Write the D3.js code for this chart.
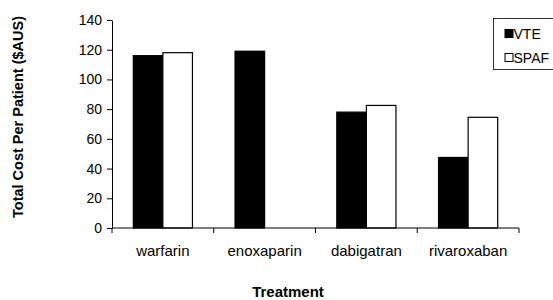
<!DOCTYPE html>
<html>
<head>
<meta charset="utf-8">
<script src="https://cdn.jsdelivr.net/npm/d3@7"></script>
<style>
	body { margin: 0; background: #fff; }
	text { font-family: "Liberation Sans", Arial, sans-serif; fill: #000; }
</style>
</head>
<body>
<svg id="chart" width="553" height="300"></svg>
<script>
const treatments = ['warfarin', 'enoxaparin', 'dabigatran', 'rivaroxaban'];
const seriesNames = ['VTE', 'SPAF'];
const vteCost = [116, 119, 78, 47.5];
const spafCost = [118, null, 82.5, 74.5];
const yTicks = [0, 20, 40, 60, 80, 100, 120, 140];

const margin = {top: 20, right: 34, bottom: 72, left: 112};
const width = 553, height = 300;
const svg = d3.select('#chart');

const x = d3.scaleBand()
	.domain(treatments)
	.range([margin.left, width - margin.right]);

const inner = d3.scaleBand()
	.domain(seriesNames)
	.range([0, x.bandwidth()])
	.paddingOuter(0.72);

const y = d3.scaleLinear()
	.domain([0, 140])
	.range([height - margin.bottom, margin.top]);

const rows = treatments.map((t, i) => ({treatment: t, values: [
	{series: 'VTE', value: vteCost[i]},
	{series: 'SPAF', value: spafCost[i]}
]}));

// bars
svg.append('g')
	.selectAll('g')
	.data(rows)
	.join('g')
	.attr('transform', d => `translate(${x(d.treatment)},0)`)
	.selectAll('rect')
	.data(d => d.values.filter(v => v.value != null))
	.join('rect')
	.attr('x', d => inner(d.series))
	.attr('width', inner.bandwidth())
	.attr('y', d => y(d.value))
	.attr('height', d => y(0) - y(d.value))
	.attr('fill', d => d.series === 'VTE' ? '#000' : '#fff')
	.attr('stroke', '#000')
	.attr('stroke-width', 1.2);

// y axis
const yAxis = svg.append('g')
	.attr('transform', `translate(${margin.left},0)`)
	.call(d3.axisLeft(y).tickValues(yTicks).tickSize(5).tickSizeOuter(0).tickPadding(5));
yAxis.selectAll('text').attr('font-size', 14).attr('fill', '#000').attr('font-family', '"Liberation Sans", Arial, sans-serif');
yAxis.selectAll('line, path').attr('stroke', '#000');

// x axis with ticks at category boundaries
const xAxis = svg.append('g')
	.attr('transform', `translate(0,${y(0)})`);
xAxis.append('line')
	.attr('x1', margin.left).attr('x2', width - margin.right)
	.attr('stroke', '#000');
const boundaries = treatments.map(t => x(t)).concat([x(treatments[treatments.length - 1]) + x.bandwidth()]);
xAxis.selectAll('.xtick')
	.data(boundaries)
	.join('line')
	.attr('class', 'xtick')
	.attr('x1', d => d).attr('x2', d => d)
	.attr('y1', 0).attr('y2', 5)
	.attr('stroke', '#000');
xAxis.selectAll('.xlabel')
	.data(treatments)
	.join('text')
	.attr('class', 'xlabel')
	.attr('x', d => x(d) + x.bandwidth() / 2)
	.attr('y', 28)
	.attr('text-anchor', 'middle')
	.attr('font-size', 15)
	.text(d => d);

// axis titles
svg.append('text')
	.attr('x', 288)
	.attr('y', 297)
	.attr('text-anchor', 'middle')
	.attr('font-size', 15)
	.attr('font-weight', 'bold')
	.text('Treatment');

svg.append('text')
	.attr('transform', 'translate(23,117) rotate(-90)')
	.attr('text-anchor', 'middle')
	.attr('font-size', 14.5)
	.attr('font-weight', 'bold')
	.text('Total Cost Per Patient ($AUS)');

// legend
const legend = svg.append('g').attr('transform', 'translate(493.5,18.5)');
legend.append('rect')
	.attr('width', 62).attr('height', 51)
	.attr('fill', '#fff').attr('stroke', '#000').attr('stroke-width', 0.8);
const item = legend.selectAll('.item')
	.data(seriesNames)
	.join('g')
	.attr('class', 'item')
	.attr('transform', (d, i) => `translate(11.5,${15 + i * 24})`);
item.append('rect')
	.attr('x', 0).attr('y', -4)
	.attr('width', 8).attr('height', 8)
	.attr('fill', d => d === 'VTE' ? '#000' : '#fff')
	.attr('stroke', '#000');
item.append('text')
	.attr('x', 8.5).attr('y', 5)
	.attr('font-size', 14)
	.text(d => d);
</script>
</body>
</html>
